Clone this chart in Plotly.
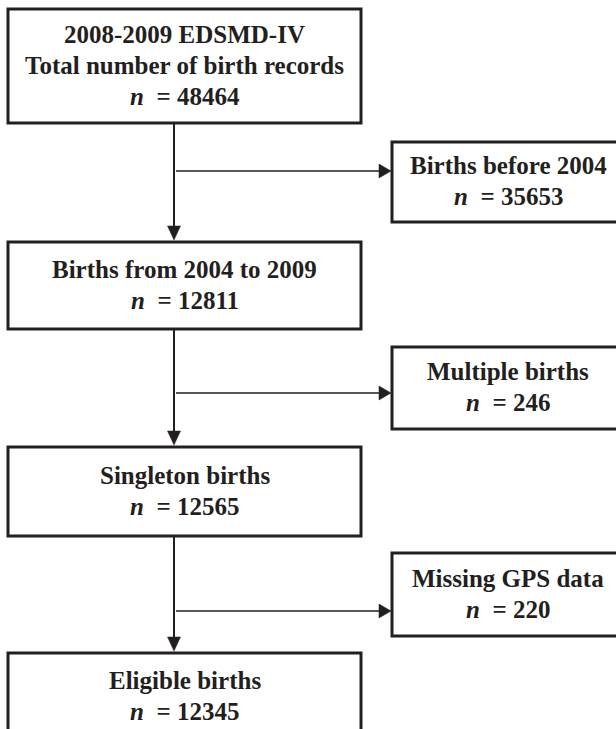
import plotly.graph_objects as go

# ---- data ----
main_labels = [
    ["2008-2009 EDSMD-IV", "Total number of birth records"],
    ["Births from 2004 to 2009"],
    ["Singleton births"],
    ["Eligible births"],
]
main_n = [48464, 12811, 12565, 12345]
excl_labels = ["Births before 2004", "Multiple births", "Missing GPS data"]
excl_n = [35653, 246, 220]

# ---- layout constants (pixels) ----
W, H = 616, 729
INK = "#231f20"
FONT = dict(family="Liberation Serif, Times New Roman, serif", size=25, color=INK)
PITCH = 31

main_x0, main_x1 = 8, 361
main_top = [9, 242, 447, 653]
main_bot = [123, 329, 536, 741]   # last box continues past the page
excl_x0, excl_x1 = 392, 650
excl_top = [142, 347, 553]
excl_bot = [222, 429, 636]
branch_y = [171, 393, 611]
spine_x = 174

fig = go.Figure()
fig.add_trace(go.Scatter(x=[0, W], y=[0, H], mode="markers",
                         marker=dict(opacity=0), hoverinfo="skip", showlegend=False))

shapes = []
annotations = []


def add_text(lines, cx, cy):
    k = len(lines)
    for i, t in enumerate(lines):
        y = cy + (i - (k - 1) / 2) * PITCH
        annotations.append(dict(x=cx, y=y, xref="x", yref="y", text=t, showarrow=False,
                                font=FONT, xanchor="center", yanchor="middle"))


# main boxes
for i, (lab, n) in enumerate(zip(main_labels, main_n)):
    bot_draw = main_bot[i] if i < len(main_labels) - 1 else H + 40
    shapes.append(dict(type="rect", xref="x", yref="y", x0=main_x0, x1=main_x1,
                       y0=main_top[i], y1=bot_draw, line=dict(color=INK, width=3),
                       fillcolor="rgba(0,0,0,0)"))
    lines = ["<b>%s</b>" % s for s in lab] + ["<b><i>n</i>  = %d</b>" % n]
    add_text(lines, (main_x0 + main_x1) / 2, (main_top[i] + main_bot[i]) / 2 - 1)

# exclusion boxes
for i, (lab, n) in enumerate(zip(excl_labels, excl_n)):
    shapes.append(dict(type="rect", xref="x", yref="y", x0=excl_x0, x1=excl_x1,
                       y0=excl_top[i], y1=excl_bot[i], line=dict(color=INK, width=3),
                       fillcolor="rgba(0,0,0,0)"))
    lines = ["<b>%s</b>" % lab, "<b><i>n</i>  = %d</b>" % n]
    add_text(lines, (excl_x0 + 616) / 2 + 4, (excl_top[i] + excl_bot[i]) / 2 - 1)

# vertical spine segments with arrowheads
AH_LEN, AH_HALF = 14, 6.5
for i in range(len(main_top) - 1):
    y0 = main_bot[i] + 1
    tip = main_top[i + 1] - 2
    shapes.append(dict(type="line", xref="x", yref="y", x0=spine_x, x1=spine_x,
                       y0=y0, y1=tip - AH_LEN + 1, line=dict(color=INK, width=2)))
    shapes.append(dict(type="path", xref="x", yref="y",
                       path="M %f %f L %f %f L %f %f Z" % (spine_x - AH_HALF, tip - AH_LEN,
                                                            spine_x + AH_HALF, tip - AH_LEN,
                                                            spine_x, tip),
                       fillcolor=INK, line=dict(color=INK, width=0.5)))

# horizontal branches
HL, HH = 12, 7
for i, yb in enumerate(branch_y):
    tip = excl_x0 - 1
    shapes.append(dict(type="line", xref="x", yref="y", x0=spine_x + 2, x1=tip - HL + 1,
                       y0=yb, y1=yb, line=dict(color=INK, width=1.5)))
    shapes.append(dict(type="path", xref="x", yref="y",
                       path="M %f %f L %f %f L %f %f Z" % (tip - HL, yb - HH,
                                                            tip - HL, yb + HH,
                                                            tip, yb),
                       fillcolor=INK, line=dict(color=INK, width=0.5)))

fig.update_layout(
    width=W, height=H, margin=dict(l=0, r=0, t=0, b=0),
    paper_bgcolor="white", plot_bgcolor="white",
    xaxis=dict(range=[0, W], visible=False, fixedrange=True),
    yaxis=dict(range=[H, 0], visible=False, fixedrange=True),
    shapes=shapes, annotations=annotations, showlegend=False,
)

fig.write_html("out.html", config={"displayModeBar": False},
               post_script="document.body.style.margin='0';document.body.style.overflow='hidden';")
